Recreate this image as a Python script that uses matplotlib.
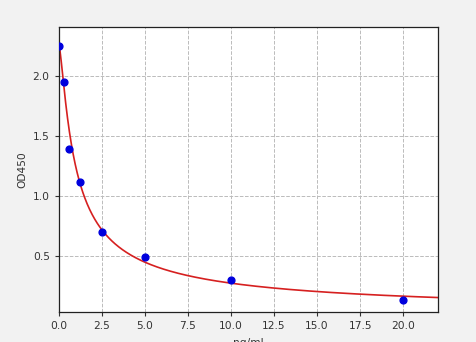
import numpy as np
import matplotlib
matplotlib.use("Agg")
import matplotlib.pyplot as plt

conc = np.array([0.0, 0.3125, 0.625, 1.25, 2.5, 5.0, 10.0, 20.0])
od = np.array([2.25, 1.95, 1.39, 1.117, 0.70, 0.485, 0.295, 0.131])
xticks = [0.0, 2.5, 5.0, 7.5, 10.0, 12.5, 15.0, 17.5, 20.0]
yticks = [0.5, 1.0, 1.5, 2.0]

# five-parameter logistic standard-curve parameters (top, slope, mid, bottom, asymmetry)
fit_a = 2.27
fit_b = 1.45
fit_c = 0.553
fit_d = -0.006
fit_g = 0.5


def logistic5(x):
    return fit_d + (fit_a - fit_d) / np.power(1.0 + np.power(x / fit_c, fit_b), fit_g)


fig = plt.figure(figsize=(4.76, 3.42), dpi=100, facecolor="#f2f2f2")
ax = fig.add_axes([0.1233, 0.0868, 0.7962, 0.8343])
ax.set_facecolor("white")

xs = np.linspace(0, 22, 600)
ax.plot(xs, logistic5(xs), color="#d62020", lw=1.2, zorder=2)
ax.scatter(conc, od, color="#0000dd", s=24, zorder=3)

ax.set_xlim(0, 22)
ax.set_ylim(0.028, 2.406)
ax.set_xticks(xticks)
ax.set_yticks(yticks)
ax.tick_params(labelsize=7.7, colors="#333333", length=3)
ax.grid(True, linestyle="--", color="#bbbbbb", linewidth=0.7)
for s in ax.spines.values():
    s.set_color("#222222")
    s.set_linewidth(0.9)
ax.set_ylabel("OD450", fontsize=7.7, color="#333333")
ax.set_xlabel("ng/ml", fontsize=7.7, color="#333333", labelpad=5)

fig.savefig("out.png", dpi=100, facecolor=fig.get_facecolor())
